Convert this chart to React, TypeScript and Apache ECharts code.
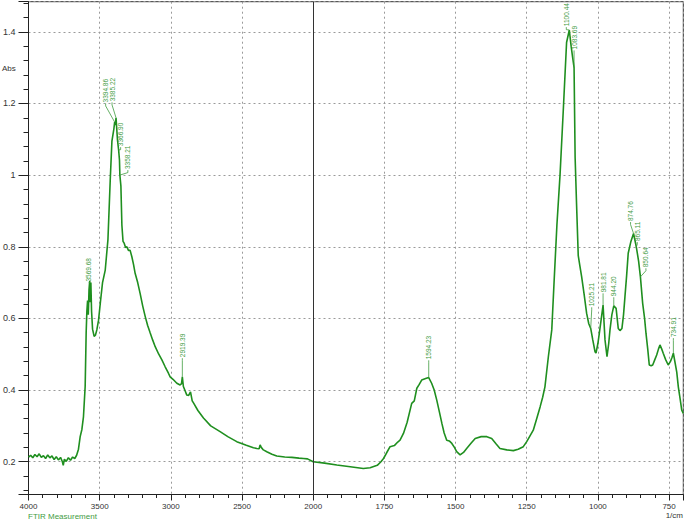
import React, { useEffect, useRef } from "react";
import * as echarts from "echarts";

// Wavenumbers (1/cm) and absorbance
const wavenumbers = [
  4000, 3985, 3970, 3955, 3940, 3925, 3910, 3895, 3880, 3865, 3850, 3835, 3820, 3805, 3790, 3775,
  3762, 3756, 3748, 3735, 3720, 3705, 3690, 3675, 3662, 3649, 3637, 3625, 3614, 3602, 3595, 3590,
  3585, 3580, 3575, 3570, 3566, 3562, 3557, 3550, 3539, 3530, 3520, 3508, 3495, 3480, 3461, 3442,
  3426, 3414, 3400, 3394.86, 3390, 3385.22, 3375, 3366.9, 3361, 3358.21, 3351, 3344, 3336, 3328,
  3318, 3309, 3298, 3286, 3274, 3262, 3251, 3233, 3216, 3198, 3180, 3163, 3145, 3128, 3110, 3085,
  3063, 3040, 3017, 3005, 2985, 2958, 2935, 2925, 2919.39, 2912, 2900, 2888, 2875, 2862, 2850,
  2841, 2810, 2771, 2720, 2654, 2600, 2537, 2470, 2420, 2396, 2380, 2373, 2365, 2350, 2326, 2290,
  2256, 2200, 2150, 2100, 2069, 2040, 2000, 1960, 1917, 1870, 1824, 1800, 1775, 1762, 1753, 1742,
  1730, 1715, 1703, 1695, 1683, 1670, 1654, 1645, 1636, 1628, 1619, 1605, 1594.23, 1584, 1575,
  1566, 1557, 1548, 1540, 1531, 1522, 1513, 1504, 1496, 1484, 1472, 1461, 1445, 1431, 1410, 1390,
  1373, 1358, 1344, 1320, 1297, 1280, 1262, 1250, 1240, 1227, 1215, 1203, 1194, 1186, 1174, 1162,
  1154, 1144, 1133, 1121, 1110, 1100.44, 1094, 1089, 1083.69, 1080, 1075, 1069, 1063, 1057, 1048,
  1039.5, 1032, 1025.21, 1018, 1010, 1006.6, 1000, 995, 988, 981.81, 975, 968, 962, 957.5, 951,
  944.2, 936, 928.5, 922.5, 915.5, 910, 905, 899, 893.5, 884, 874.76, 865.11, 857, 850.64, 842.7,
  836, 831, 825, 819.5, 813, 807.5, 800, 793.5, 787, 782, 776, 770.5, 762, 753, 745, 740, 734.91,
  729.5, 723, 717.5, 711, 705.5, 700,
];

const absorbance = [
  0.213, 0.218, 0.211, 0.22, 0.214, 0.222, 0.212, 0.217, 0.209, 0.219, 0.211, 0.216, 0.206, 0.214, 0.205, 0.212,
  0.2, 0.19, 0.207, 0.201, 0.211, 0.204, 0.213, 0.209, 0.218, 0.235, 0.27, 0.29, 0.325, 0.41, 0.56, 0.62,
  0.65, 0.61, 0.68, 0.705, 0.645, 0.7, 0.62, 0.57, 0.55, 0.553, 0.568, 0.595, 0.645, 0.7, 0.735, 0.82,
  0.985, 1.095, 1.13, 1.148, 1.14, 1.16, 1.098, 1.07, 1.042, 1.0, 0.97, 0.86, 0.815, 0.81,
  0.798, 0.8, 0.79, 0.79, 0.772, 0.75, 0.726, 0.7, 0.67, 0.635, 0.605, 0.58, 0.559, 0.54, 0.521, 0.5,
  0.484, 0.465, 0.447, 0.437, 0.43, 0.419, 0.414, 0.418, 0.437, 0.41, 0.398, 0.386, 0.385, 0.395, 0.37,
  0.364, 0.343, 0.322, 0.3, 0.284, 0.27, 0.256, 0.246, 0.239, 0.237, 0.236, 0.247, 0.24, 0.233, 0.228, 0.221,
  0.216, 0.213, 0.212, 0.21, 0.209, 0.208, 0.2, 0.196, 0.191, 0.186, 0.181, 0.183, 0.19, 0.2, 0.209, 0.225,
  0.242, 0.245, 0.255, 0.26, 0.279, 0.31, 0.363, 0.37, 0.405, 0.415, 0.428, 0.432, 0.435, 0.419, 0.4,
  0.372, 0.34, 0.307, 0.28, 0.26, 0.258, 0.251, 0.24, 0.228, 0.219, 0.226, 0.237, 0.252, 0.265, 0.27, 0.27,
  0.265, 0.25, 0.237, 0.233, 0.231, 0.235, 0.242, 0.256, 0.27, 0.288, 0.32, 0.353, 0.38, 0.409, 0.493, 0.568,
  0.7, 0.86, 1.0, 1.19, 1.37, 1.405, 1.36, 1.33, 1.3, 1.05, 0.92, 0.775, 0.745, 0.716, 0.665,
  0.614, 0.585, 0.572, 0.54, 0.507, 0.503, 0.53, 0.558, 0.6, 0.637, 0.54, 0.493, 0.53, 0.568, 0.61,
  0.635, 0.628, 0.572, 0.566, 0.572, 0.61, 0.66, 0.72, 0.782, 0.815, 0.837, 0.8, 0.76, 0.716, 0.642,
  0.6, 0.558, 0.515, 0.47, 0.468, 0.47, 0.485, 0.498, 0.515, 0.526, 0.515, 0.503, 0.485, 0.47, 0.48, 0.49, 0.503,
  0.479, 0.45, 0.409, 0.375, 0.344, 0.335,
];

// Peak annotations
const peakLabels = [
  "3569.68", "3394.86", "3385.22", "3366.90", "3358.21", "2919.39", "1594.23", "1100.44",
  "1083.69", "1025.21", "981.81", "944.20", "874.76", "865.11", "850.64", "734.91",
];
const peakWavenumbers = [
  3569.68, 3394.86, 3385.22, 3366.9, 3358.21, 2919.39, 1594.23, 1100.44,
  1083.69, 1025.21, 981.81, 944.2, 874.76, 865.11, 850.64, 734.91,
];
const peakCurveAbs = [0.7, 1.148, 1.16, 1.07, 1.0, 0.437, 0.435, 1.405, 1.3, 0.572, 0.637, 0.635, 0.837, 0.8, 0.716, 0.503];
const peakLabelAbs = [0.7, 1.2, 1.203, 1.078, 1.014, 0.489, 0.483, 1.413, 1.348, 0.631, 0.67, 0.659, 0.869, 0.813, 0.74, 0.545];
const peakLabelShift = [-1, -9, -4, 2, 8, 0, 0, -3, 0, 1, 0, 0, -3, 1, 5.5, 0];

const yAxisTitle = "Abs";
const xAxisTitle = "1/cm";
const footerText = "FTIR Measurement";

// Piecewise scale: 4000-2000 at 1x, 2000-700 at 2x
function toT(w: number): number {
  return w >= 2000 ? 4000 - w : 2000 + (2000 - w) * 2;
}
function fromT(t: number): number {
  return t <= 2000 ? 4000 - t : 2000 - (t - 2000) / 2;
}

const FONT = "'Liberation Sans', Arial, sans-serif";
const GREEN = "#1f8f1f";
const LABEL_GREEN = "#3f9c3f";

export default function App() {
  const ref = useRef<HTMLDivElement>(null);

  useEffect(() => {
    if (!ref.current) return;
    const chart = echarts.init(ref.current, null, { renderer: "svg" });
    const lineData = wavenumbers.map((w, i) => [toT(w), absorbance[i]]);
    const annData = peakWavenumbers.map((w, i) => [toT(w), peakCurveAbs[i], peakLabelAbs[i], peakLabelShift[i]]);

    chart.setOption({
      animation: false,
      backgroundColor: "#ffffff",
      grid: {
        left: 28.3,
        right: 1.7,
        top: 1.7,
        bottom: 26.5,
        show: true,
        borderColor: "#333",
        borderWidth: 1,
        backgroundColor: "transparent",
      },
      xAxis: {
        type: "value",
        min: 0,
        max: 4600,
        interval: 500,
        axisLine: { show: true, lineStyle: { color: "#222", width: 1 } },
        axisTick: { show: true, length: 6, lineStyle: { color: "#222" } },
        minorTick: { show: true, splitNumber: 5, length: 3.5, lineStyle: { color: "#222" } },
        axisLabel: {
          formatter: (v: number) => String(Math.round(fromT(v))),
          showMaxLabel: false,
          fontSize: 8,
          color: "#333",
          fontFamily: FONT,
          margin: 8,
        },
        splitLine: { show: true, lineStyle: { type: [2, 3], color: "#9a9a9a", width: 1 } },
      },
      yAxis: {
        type: "value",
        min: 0.1085,
        max: 1.484,
        splitNumber: 7,
        axisLine: { show: true, lineStyle: { color: "#222", width: 1 } },
        axisTick: { show: true, length: 10, lineStyle: { color: "#222" } },
        minorTick: { show: true, splitNumber: 5, length: 5, lineStyle: { color: "#222" } },
        axisLabel: {
          showMinLabel: false,
          showMaxLabel: false,
          fontSize: 9,
          color: "#333",
          fontFamily: FONT,
          margin: 13,
        },
        splitLine: { show: true, lineStyle: { type: [2, 3], color: "#9a9a9a", width: 1 } },
      },
      series: [
        {
          type: "line",
          data: lineData,
          showSymbol: false,
          symbol: "none",
          lineStyle: { color: GREEN, width: 1.6 },
          z: 3,
          markLine: {
            silent: true,
            symbol: "none",
            label: { show: false },
            lineStyle: { type: "solid", color: "#333", width: 1 },
            data: [{ xAxis: toT(2000) }],
          },
        },
        {
          type: "custom",
          silent: true,
          clip: false,
          z: 5,
          encode: { x: 0, y: 1 },
          data: annData,
          renderItem: (params: any, api: any) => {
            const t = api.value(0);
            const yc = api.value(1);
            const yl = api.value(2);
            const dx = api.value(3);
            const p = api.coord([t, yc]);
            const q = api.coord([t, yl]);
            const tx = p[0] + dx;
            const ty = q[1];
            const midY = Math.min(ty + 2.5, p[1]);
            return {
              type: "group",
              children: [
                {
                  type: "polyline",
                  shape: { points: [[tx, ty], [tx, midY], [p[0], p[1]]] },
                  style: { stroke: LABEL_GREEN, lineWidth: 0.8, fill: null },
                },
                {
                  type: "text",
                  x: tx,
                  y: ty - 1,
                  rotation: Math.PI / 2,
                  style: {
                    text: peakLabels[params.dataIndex],
                    fontSize: 6.5,
                    fontFamily: FONT,
                    fill: LABEL_GREEN,
                    align: "left",
                    verticalAlign: "middle",
                  },
                },
              ],
            };
          },
        },
      ],
      graphic: [
        {
          type: "text",
          left: 2,
          top: 64,
          style: { text: yAxisTitle, fontSize: 8, fontFamily: FONT, fill: "#333" },
        },
        {
          type: "text",
          right: 2,
          top: 511,
          style: { text: xAxisTitle, fontSize: 8, fontFamily: FONT, fill: "#333" },
        },
        {
          type: "text",
          left: 28,
          top: 512,
          style: { text: footerText, fontSize: 8, fontFamily: FONT, fill: LABEL_GREEN },
        },
      ],
    });

    return () => {
      chart.dispose();
    };
  }, []);

  return (
    <div
      ref={ref}
      style={{ position: "absolute", left: 0, top: 0, width: 685, height: 521 }}
    />
  );
}
